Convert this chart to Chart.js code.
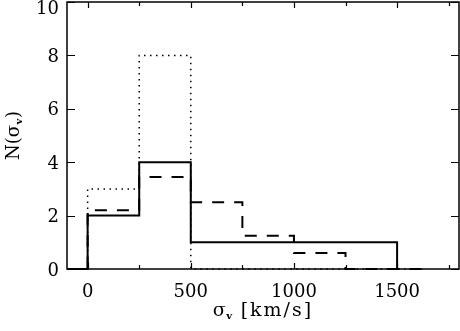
<!DOCTYPE html>
<html>
<head>
<meta charset="utf-8">
<script src="https://cdn.jsdelivr.net/npm/chart.js@4/dist/chart.umd.min.js"></script>
<style>
  html, body { margin: 0; padding: 0; background: #fff; }
  #wrap { width: 460px; height: 331px; }
</style>
</head>
<body>
<div id="wrap"><canvas id="chart"></canvas></div>
<script>
// histogram bin edges (left edge of each step) and counts
const solidX = [-100, 0, 250, 500, 1500]
const solidN = [0, 2, 4, 1, 0]
const dashX = [0, 0, 250, 500, 750, 1000, 1250, 1625]
const dashN = [0, 2.2, 3.45, 2.5, 1.25, 0.6, 0, 0]
const dotX = [0, 0, 250, 500, 1625]
const dotN = [0, 3, 8, 0, 0]

// axis ticks
const xLabels = [0, 500, 1000, 1500]
const xMinor = [250, 750, 1250, 1750]
const yLabels = [0, 2, 4, 6, 8, 10]

const FONT = '"DejaVu Serif", serif'

const pts = (xs, ys) => xs.map((x, i) => ({ x: x, y: ys[i] }))

// frame, inward ticks, tick labels and axis titles
const framePlugin = {
  id: 'frame',
  afterDraw(chart) {
    const ctx = chart.ctx
    const a = chart.chartArea
    const xs = chart.scales.x
    const ys = chart.scales.y
    ctx.save()
    ctx.strokeStyle = '#000'
    ctx.lineWidth = 1.5
    ctx.strokeRect(a.left, a.top, a.right - a.left, a.bottom - a.top)

    ctx.lineWidth = 1.2
    ctx.beginPath()
    xLabels.concat(xMinor).forEach(v => {
      const px = Math.round(xs.getPixelForValue(v)) + 0.5
      const len = xLabels.includes(v) ? 6 : 4
      ctx.moveTo(px, a.bottom); ctx.lineTo(px, a.bottom - len)
      ctx.moveTo(px, a.top); ctx.lineTo(px, a.top + len)
    })
    yLabels.forEach(v => {
      const py = Math.round(ys.getPixelForValue(v)) + 0.5
      ctx.moveTo(a.left, py); ctx.lineTo(a.left + 8, py)
      ctx.moveTo(a.right, py); ctx.lineTo(a.right - 8, py)
    })
    ctx.stroke()

    // tick labels
    ctx.fillStyle = '#000'
    ctx.font = '18px ' + FONT
    ctx.textAlign = 'right'
    ctx.textBaseline = 'middle'
    yLabels.forEach(v => {
      const py = Math.max(ys.getPixelForValue(v) + 2, 9)
      ctx.fillText(String(v), a.left - 8, py)
    })
    ctx.textAlign = 'center'
    xLabels.forEach(v => {
      ctx.fillText(String(v), xs.getPixelForValue(v), a.bottom + 23)
    })

    // x title: sigma_v [km/s]
    const cx = (a.left + a.right) / 2
    ctx.textAlign = 'left'
    ctx.textBaseline = 'alphabetic'
    const base = 316
    ctx.font = '19px ' + FONT
    const wS = ctx.measureText('σ').width
    ctx.font = 'bold 10px ' + FONT
    const wV = ctx.measureText('v').width
    ctx.font = '19px ' + FONT
    ctx.letterSpacing = '2px'
    const wR = ctx.measureText(' [km/s]').width
    let x0 = cx - (wS + wV + 1 + wR) / 2
    ctx.letterSpacing = '0px'
    ctx.fillText('σ', x0, base)
    ctx.font = 'bold 10px ' + FONT
    ctx.fillText('v', x0 + wS + 0.5, base + 3)
    ctx.font = '19px ' + FONT
    ctx.letterSpacing = '2px'
    ctx.fillText(' [km/s]', x0 + wS + wV + 1, base)
    ctx.letterSpacing = '0px'

    // y title: N(sigma_v), rotated
    const cy = (a.top + a.bottom) / 2
    ctx.translate(19, cy)
    ctx.rotate(-Math.PI / 2)
    ctx.font = '18px ' + FONT
    const t1 = 'N(σ'
    const w1 = ctx.measureText(t1).width
    const w3 = ctx.measureText(')').width
    ctx.font = 'bold 10px ' + FONT
    const w2 = ctx.measureText('v').width
    x0 = -(w1 + w2 + 1 + w3) / 2
    ctx.font = '18px ' + FONT
    ctx.fillText(t1, x0, 0)
    ctx.font = 'bold 10px ' + FONT
    ctx.fillText('v', x0 + w1 + 0.5, 3)
    ctx.font = '18px ' + FONT
    ctx.fillText(')', x0 + w1 + w2 + 1, 0)
    ctx.restore()
  }
}

const ctx = document.getElementById('chart').getContext('2d')
new Chart(ctx, {
  type: 'line',
  data: {
    datasets: [
      {
        label: 'dotted',
        data: pts(dotX, dotN),
        stepped: 'before',
        borderColor: '#000',
        borderWidth: 1.5,
        borderDash: [1.5, 4.5],
        pointRadius: 0,
        fill: false,
        clip: 4,
      },
      {
        label: 'dashed',
        data: pts(dashX, dashN),
        stepped: 'before',
        borderColor: '#000',
        borderWidth: 2,
        borderDash: [12, 10],
        pointRadius: 0,
        fill: false,
        clip: 4,
      },
      {
        label: 'solid',
        data: pts(solidX, solidN),
        stepped: 'before',
        borderColor: '#000',
        borderWidth: 2,
        pointRadius: 0,
        fill: false,
        clip: 4,
      },
    ],
  },
  options: {
    responsive: true,
    maintainAspectRatio: false,
    animation: false,
    layout: { padding: { top: 2, right: 1, left: 0, bottom: 0 } },
    plugins: {
      legend: { display: false },
      tooltip: { enabled: false },
    },
    scales: {
      x: {
        type: 'linear',
        min: -100,
        max: 1800,
        grid: { display: false, drawTicks: false },
        border: { display: false },
        ticks: { display: false },
        afterFit: s => { s.height = 62 },
      },
      y: {
        min: 0,
        max: 10,
        grid: { display: false, drawTicks: false },
        border: { display: false },
        ticks: { display: false },
        afterFit: s => { s.width = 67 },
      },
    },
  },
  plugins: [framePlugin],
})
</script>
</body>
</html>
